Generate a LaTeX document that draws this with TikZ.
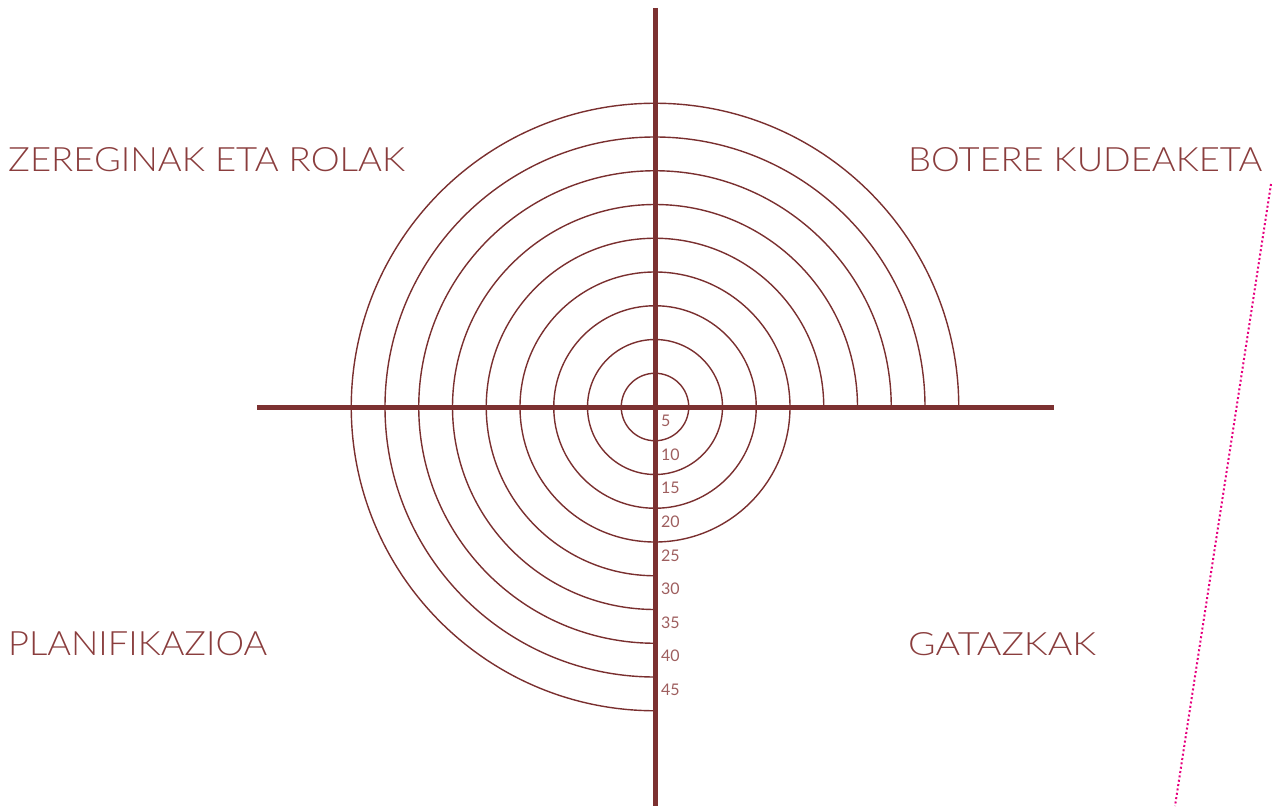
\documentclass[tikz,border=0pt]{standalone}
\usepackage{fontspec}
\setmainfont{Lato Light}
\newfontfamily\numfont{Lato}
\usepackage{graphicx}
\usetikzlibrary{calc}
\definecolor{axis}{HTML}{7C3131}
\definecolor{ring}{HTML}{7A2F2F}
\definecolor{ttl}{HTML}{8A3D3D}
\definecolor{num}{HTML}{9E5E5E}
\definecolor{pink}{HTML}{E6007E}
\tikzset{
  axisline/.style={draw=axis, line width=5pt},
  ringline/.style={draw=ring, line width=1.4pt},
  numlbl/.style={text=num, font=\numfont\fontsize{16}{16}\selectfont, anchor=west, inner sep=0pt},
  title/.style={text=ttl, anchor=south west, inner sep=0pt},
  pinkdots/.style={draw=pink, line width=2pt, dash pattern=on 2pt off 2.4pt}
}
\begin{document}
\begin{tikzpicture}[x=1pt,y=1pt]
\useasboundingbox (0,0) rectangle (1272,-808);
\coordinate (c) at (655,-407);
% rings
\foreach \k in {1,...,4} {
  \draw[ringline] (c) circle[radius=33.75*\k];
}
\foreach \k in {5,...,9} {
  \draw[ringline] ($(c)+(33.75*\k,0)$) arc[start angle=0, end angle=270, radius=33.75*\k];
}
% axes
\coordinate (ht) at (655,-8);
\coordinate (hb) at (655,-806);
\coordinate (hl) at (257,-407);
\coordinate (hr) at (1054,-407);
\draw[axisline] (ht) -- (hb);
\draw[axisline] (hl) -- (hr);
% numbers
\foreach \v [count=\i] in {5,10,15,20,25,30,35,40,45} {
  \node[numlbl] (n\i) at (661,{-421-33.6*(\i-1)}) {\v};
}
% titles
\node[title] (zr) at (8,-172) {\resizebox{397pt}{24pt}{ZEREGINAK ETA ROLAK}};
\node[title] (bk) at (908,-172) {\resizebox{354pt}{24pt}{BOTERE KUDEAKETA}};
\node[title] (pl) at (8,-656) {\resizebox{259pt}{24pt}{PLANIFIKAZIOA}};
\node[title] (gt) at (908,-656) {\resizebox{188pt}{23pt}{GATAZKAK}};
% pink dotted line
\coordinate (p1) at (1271,-184);
\coordinate (p2) at (1175,-806);
\draw[pinkdots] (p1) -- (p2);
\end{tikzpicture}
\end{document}
